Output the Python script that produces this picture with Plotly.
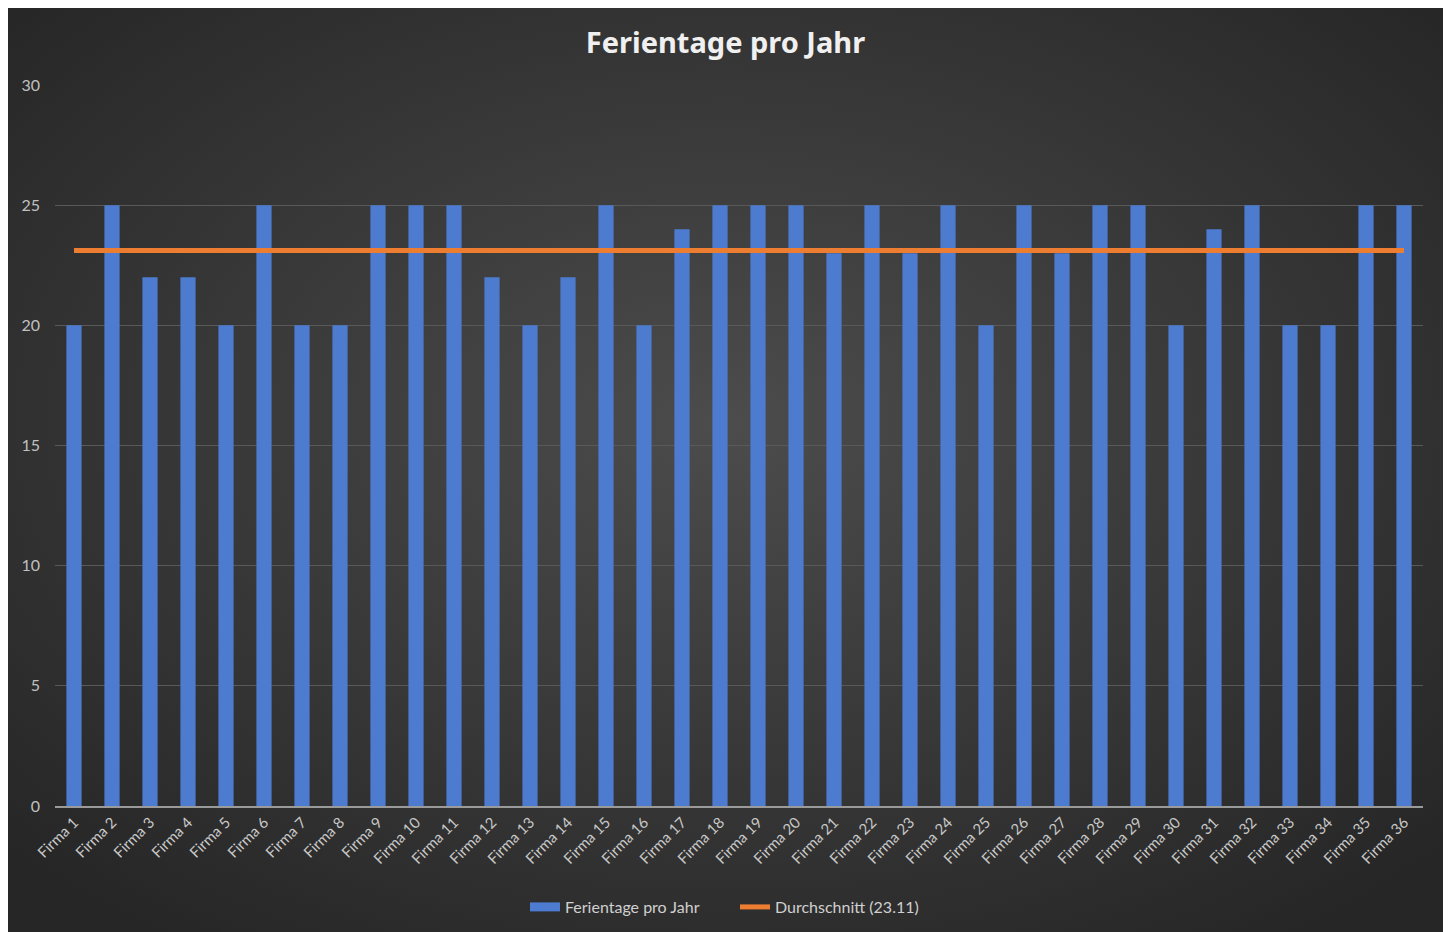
import plotly.graph_objects as go
import base64

firmen = [f"Firma {i}" for i in range(1, 37)]
ferientage = [20, 25, 22, 22, 20, 25, 20, 20, 25, 25, 25, 22, 20, 22, 25, 20, 24, 25,
              25, 25, 23, 25, 23, 25, 20, 25, 23, 25, 25, 20, 24, 25, 20, 20, 25, 25]
durchschnitt = 23.11
durchschnitt_linie = [durchschnitt] * len(firmen)
y_ticks = [0, 5, 10, 15, 20, 25, 30]

W, H = 1435, 924
L, R, T, B = 47, 20, 77, 126
pw, ph = W - L - R, H - T - B

svg = '''<svg xmlns="http://www.w3.org/2000/svg" width="1435" height="924" viewBox="0 0 1435 924" preserveAspectRatio="none">
<defs><radialGradient id="g" cx="50%" cy="45%" r="68%">
<stop offset="0%" stop-color="#4c4c4c"/><stop offset="100%" stop-color="#262626"/>
</radialGradient></defs>
<rect width="1435" height="924" fill="url(#g)"/></svg>'''
src = "data:image/svg+xml;base64," + base64.b64encode(svg.encode()).decode()

fig = go.Figure()
fig.add_trace(go.Bar(
    x=firmen, y=ferientage, name="Ferientage pro Jahr",
    marker=dict(color="#4d7bd0", line=dict(width=0)),
    showlegend=False, legendgroup="bars",
))
# legend entry with a wide bar-like swatch
fig.add_trace(go.Scatter(
    x=[None], y=[None], mode="lines", name="Ferientage pro Jahr",
    line=dict(color="#4d7bd0", width=9), legendgroup="bars",
))
fig.add_trace(go.Scatter(
    x=firmen, y=durchschnitt_linie, mode="lines",
    name=f"Durchschnitt ({durchschnitt})",
    line=dict(color="#ed7d31", width=5),
))

fig.update_layout(
    width=W, height=H,
    autosize=False,
    margin=dict(l=L, r=R, t=T, b=B, autoexpand=False),
    paper_bgcolor="#2e2e2e",
    plot_bgcolor="rgba(0,0,0,0)",
    bargap=0.6,
    font=dict(family="Lato, Open Sans, sans-serif", color="#c8c8c8"),
    title=dict(text="<b>Ferientage pro Jahr</b>", x=0.5, xref="container", y=1 - 35 / H,
               yanchor="middle", font=dict(family="Noto Sans, Open Sans", size=29, color="#f0f0f0")),
    xaxis=dict(
        tickangle=-45, tickfont=dict(size=15, color="#c8c8c8"),
        showgrid=False, showline=True, linecolor="#9a9a9a", linewidth=1.5,
        ticks="", range=[-0.5, 35.5], automargin=False, dtick=1,
    ),
    yaxis=dict(
        range=[0, 30], tickvals=y_ticks, tickfont=dict(size=16, color="#c0c0c0"),
        showgrid=True, gridcolor="#595959", gridwidth=1, zeroline=False,
        showline=False, ticks="", ticklabelstandoff=14, automargin=False,
    ),
    legend=dict(orientation="h", x=(517 - L) / pw, xanchor="left",
                y=(798 - 899) / ph, yanchor="middle", entrywidth=165, entrywidthmode="pixels",
                font=dict(size=16, color="#d0d0d0"), bgcolor="rgba(0,0,0,0)"),
    showlegend=True,
    images=[dict(
        source=src, xref="paper", yref="paper",
        x=-L / pw, y=1 + T / ph,
        sizex=W / pw, sizey=H / ph,
        sizing="stretch", layer="below", xanchor="left", yanchor="top",
    )],
)

fig.write_html("out.html")
